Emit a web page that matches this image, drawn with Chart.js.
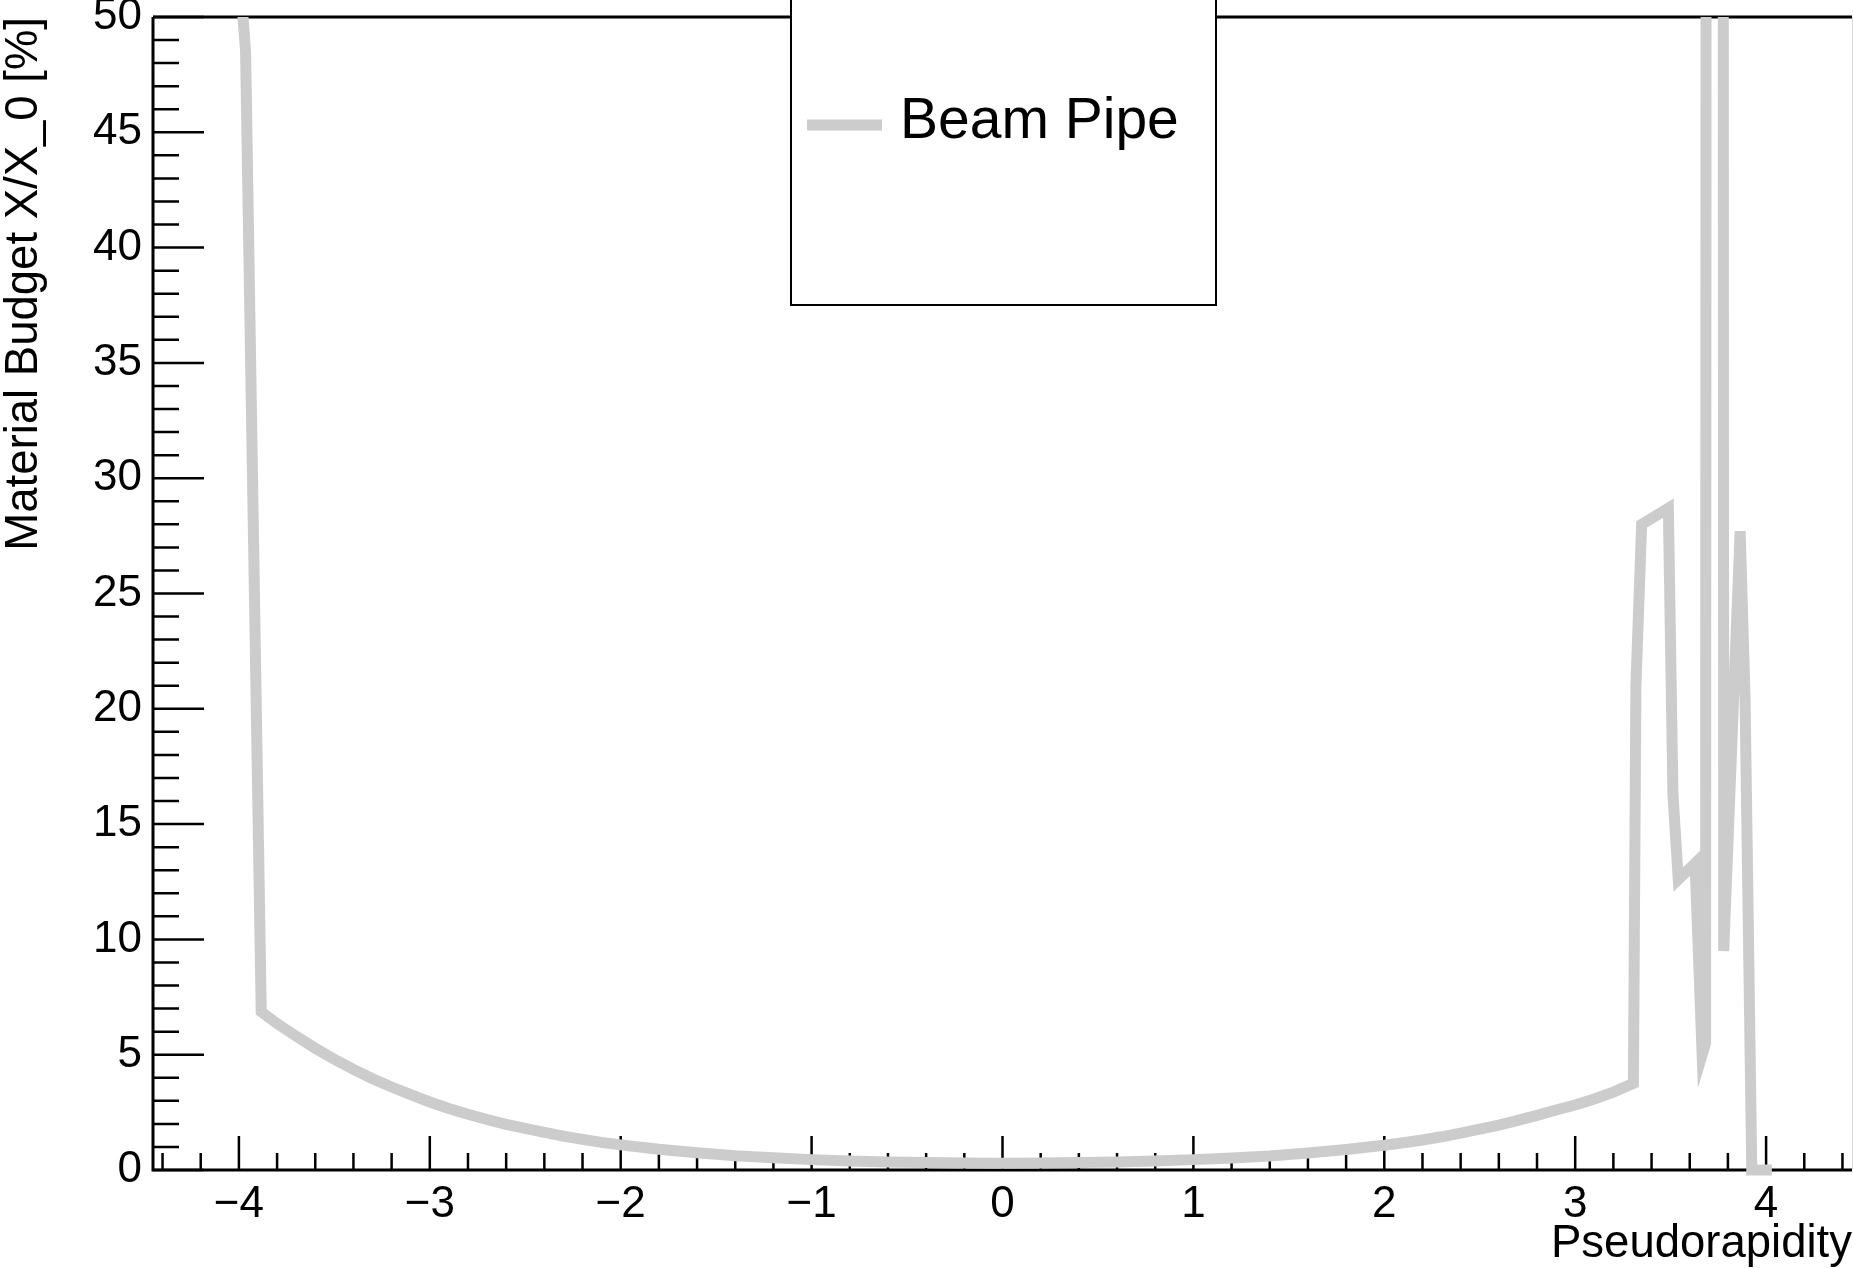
<!DOCTYPE html>
<html>
<head>
<meta charset="utf-8">
<script src="https://cdn.jsdelivr.net/npm/chart.js@4.4.1/dist/chart.umd.min.js"></script>
<style>
  html, body { margin: 0; padding: 0; background: #fff; }
  #wrap { width: 1853px; height: 1268px; }
</style>
</head>
<body>
<div id="wrap"><canvas id="budget" width="1853" height="1268"></canvas></div>
<script>
// material budget of the beam pipe vs pseudorapidity
var eta = [-4.047, -3.965, -3.883, -3.8, -3.7, -3.6, -3.5, -3.4, -3.3, -3.2,
    -3.1, -3.0, -2.9, -2.8, -2.7, -2.6, -2.5, -2.4, -2.3, -2.2,
    -2.1, -2.0, -1.8, -1.6, -1.4, -1.2, -1.0, -0.8, -0.6, -0.4,
    -0.2, 0, 0.2, 0.4, 0.6, 0.8, 1.0, 1.2, 1.4, 1.6,
    1.8, 2.0, 2.1, 2.2, 2.3, 2.4, 2.5, 2.6, 2.7, 2.8,
    2.9, 3.0, 3.1, 3.2, 3.305, 3.318, 3.348, 3.488, 3.512, 3.54,
    3.628, 3.665, 3.683, 3.73, 3.778, 3.864, 3.89, 3.925, 4.03];
var budget = [57.5, 48.5, 6.86, 6.35, 5.8, 5.28, 4.8, 4.36, 3.96, 3.6,
    3.27, 2.95, 2.67, 2.42, 2.19, 1.98, 1.8, 1.63, 1.47, 1.33,
    1.2, 1.09, 0.9, 0.75, 0.62, 0.53, 0.45, 0.39, 0.35, 0.32,
    0.3, 0.29, 0.3, 0.32, 0.35, 0.39, 0.45, 0.52, 0.61, 0.74,
    0.89, 1.07, 1.18, 1.3, 1.44, 1.6, 1.77, 1.95, 2.15, 2.37,
    2.6, 2.82, 3.08, 3.38, 3.76, 21.0, 28.0, 28.7, 16.3, 12.6,
    13.3, 5.0, 5.5, 900, 9.5, 27.7, 20.4, 0, 0];
var xTicks = [-4, -3, -2, -1, 0, 1, 2, 3, 4];
var yTicks = [0, 5, 10, 15, 20, 25, 30, 35, 40, 45, 50];

var FONT = 'Liberation Sans, Arial, Helvetica, sans-serif';

var points = eta.map(function (e, i) { return {x: e, y: budget[i]}; });

// ROOT-ish frame: inward major/minor ticks, top border
var rootFrame = {
    id: 'rootFrame',
    beforeDatasetsDraw: function (chart) {
        var ctx = chart.ctx, a = chart.chartArea;
        var xs = chart.scales.x, ys = chart.scales.y;
        ctx.save();
        ctx.strokeStyle = '#000';
        ctx.lineWidth = 2.5;
        ctx.beginPath();
        for (var i = -22; i <= 22; i++) {
            var px = xs.getPixelForValue(i * 0.2);
            if (px < a.left || px > a.right) continue;
            var len = (i % 5 === 0) ? 34 : 17;
            ctx.moveTo(px, a.bottom);
            ctx.lineTo(px, a.bottom - len);
        }
        for (var j = 0; j <= 50; j++) {
            var py = ys.getPixelForValue(j);
            var l2 = (j % 5 === 0) ? 51 : 26;
            ctx.moveTo(a.left, py);
            ctx.lineTo(a.left + l2, py);
        }
        ctx.stroke();

        ctx.lineWidth = 3;
        ctx.beginPath();
        ctx.moveTo(a.left, a.top);
        ctx.lineTo(a.left, a.bottom);
        ctx.lineTo(a.right, a.bottom);
        ctx.moveTo(a.left, a.top);
        ctx.lineTo(a.right, a.top);
        ctx.stroke();

        ctx.strokeStyle = '#d8d8d8';
        ctx.lineWidth = 1;
        ctx.beginPath();
        ctx.moveTo(a.right + 0.5, a.top);
        ctx.lineTo(a.right + 0.5, a.bottom);
        ctx.stroke();
        ctx.restore();
    },
    afterDraw: function (chart) {
        var ctx = chart.ctx;
        var ds = chart.data.datasets[0];
        ctx.save();
        ctx.fillStyle = '#fff';
        ctx.fillRect(791, -5, 425, 310);
        ctx.strokeStyle = '#000';
        ctx.lineWidth = 2;
        ctx.strokeRect(791, -5, 425, 310);

        ctx.strokeStyle = ds.borderColor;
        ctx.lineWidth = 11;
        ctx.beginPath();
        ctx.moveTo(807, 125);
        ctx.lineTo(882, 125);
        ctx.stroke();

        ctx.fillStyle = '#000';
        ctx.font = '57px ' + FONT;
        ctx.textBaseline = 'alphabetic';
        ctx.textAlign = 'left';
        ctx.fillText(ds.label, 900, 138);
        ctx.restore();
    }
};

var ctx = document.getElementById('budget').getContext('2d');
var myChart = new Chart(ctx, {
    type: 'line',
    data: {
        datasets: [{
            label: 'Beam Pipe',
            data: points,
            borderColor: '#cccccc',
            borderWidth: 11,
            pointRadius: 0,
            tension: 0,
            fill: false,
            clip: {left: 0, top: 0, right: 0, bottom: 6}
        }]
    },
    options: {
        responsive: false,
        animation: false,
        events: [],
        layout: { padding: {top: 17, right: 1, left: 0, bottom: 0} },
        plugins: {
            legend: { display: false },
            tooltip: { enabled: false }
        },
        scales: {
            x: {
                type: 'linear',
                min: -4.45,
                max: 4.45,
                afterFit: function (s) {
                    s.height = 98;
                    s.paddingLeft = 0;
                    s.paddingRight = 0;
                },
                afterBuildTicks: function (s) {
                    s.ticks = xTicks.map(function (v) { return {value: v}; });
                },
                grid: { display: false, drawTicks: false },
                border: { display: false },
                ticks: {
                    padding: 8,
                    color: '#000',
                    maxRotation: 0,
                    autoSkip: false,
                    font: { family: FONT, size: 44, lineHeight: 1.2 },
                    callback: function (v) { return String(v).replace('-', '\u2212'); }
                },
                title: {
                    display: true,
                    text: 'Pseudorapidity',
                    align: 'end',
                    color: '#000',
                    font: { family: FONT, size: 45.5, lineHeight: 1 },
                    padding: {top: 0, bottom: 1}
                }
            },
            y: {
                type: 'linear',
                min: 0,
                max: 50,
                afterFit: function (s) {
                    s.width = 153;
                    s.paddingTop = 0;
                    s.paddingBottom = 0;
                },
                afterBuildTicks: function (s) {
                    s.ticks = yTicks.map(function (v) { return {value: v}; });
                },
                grid: { display: false, drawTicks: false },
                border: { display: false },
                ticks: {
                    padding: 11,
                    color: '#000',
                    autoSkip: false,
                    font: { family: FONT, size: 44 }
                },
                title: {
                    display: true,
                    text: 'Material Budget X/X_0 [%]',
                    align: 'end',
                    color: '#000',
                    font: { family: FONT, size: 45.5, lineHeight: 1 },
                    padding: {top: 2, bottom: 0}
                }
            }
        }
    },
    plugins: [rootFrame]
});
</script>
</body>
</html>
